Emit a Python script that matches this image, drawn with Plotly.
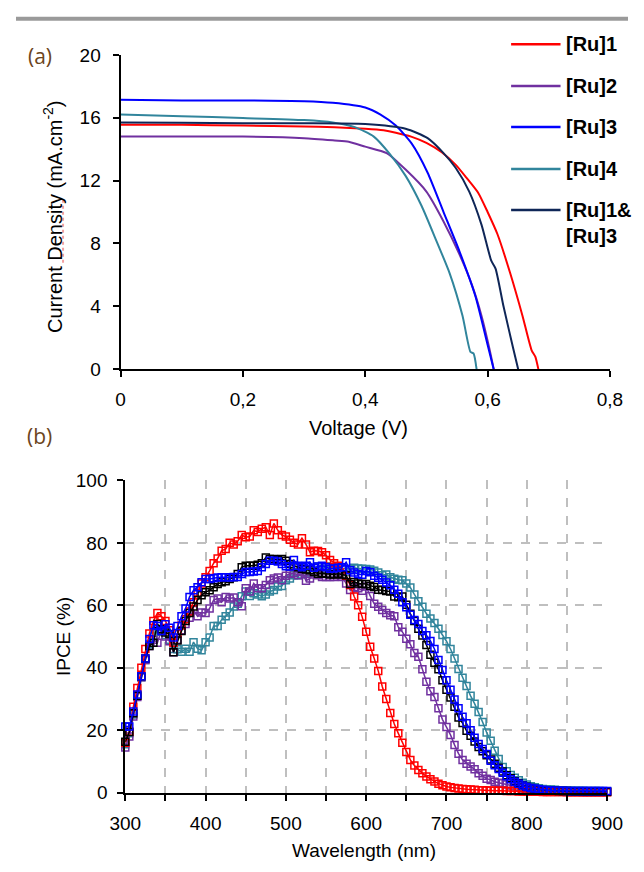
import plotly.graph_objects as go

# ---------------- Panel (a): J-V curves ----------------
V_RU1 = [0, 0.1, 0.2, 0.3, 0.35, 0.40, 0.43, 0.45, 0.475, 0.50, 0.525, 0.548, 0.565, 0.585, 0.60, 0.616, 0.637, 0.657, 0.672, 0.678, 0.683]
J_RU1 = [15.55, 15.55, 15.5, 15.45, 15.4, 15.3, 15.2, 15.05, 14.8, 14.4, 13.8, 13.0, 12.2, 11.2, 10.0, 8.6, 6.1, 3.4, 1.2, 0.8, 0]

V_RU2 = [0, 0.1, 0.2, 0.3, 0.35, 0.373, 0.40, 0.435, 0.466, 0.50, 0.528, 0.554, 0.575, 0.59, 0.603, 0.61]
J_RU2 = [14.8, 14.8, 14.8, 14.7, 14.55, 14.47, 14.16, 13.75, 12.7, 11.3, 9.4, 7.3, 5.3, 3.4, 1.3, 0]

V_RU3 = [0, 0.1, 0.2, 0.3, 0.347, 0.40, 0.425, 0.45, 0.476, 0.502, 0.528, 0.554, 0.58, 0.60, 0.61]
J_RU3 = [17.15, 17.1, 17.1, 17.05, 16.95, 16.65, 16.2, 15.5, 14.35, 12.5, 10.0, 7.5, 4.65, 1.55, 0]

V_RU4 = [0, 0.1, 0.2, 0.3, 0.347, 0.383, 0.414, 0.44, 0.466, 0.492, 0.517, 0.538, 0.559, 0.572, 0.577, 0.582]
J_RU4 = [16.2, 16.1, 15.98, 15.85, 15.7, 15.4, 14.8, 13.7, 12.3, 10.4, 8.1, 6.1, 3.4, 1.1, 1.0, 0]

V_RU13 = [0, 0.1, 0.2, 0.3, 0.40, 0.466, 0.502, 0.528, 0.548, 0.57, 0.59, 0.606, 0.613, 0.626, 0.642, 0.65]
J_RU13 = [15.7, 15.68, 15.65, 15.65, 15.6, 15.3, 14.7, 13.75, 12.8, 11.3, 9.2, 6.9, 6.4, 4.0, 1.3, 0]

# ---------------- Panel (b): IPCE spectra ----------------
WAVELENGTH = [300, 305, 310, 315, 320, 325, 330, 335, 340, 345, 350, 355, 360, 365, 370, 375, 380, 385, 390, 395,
              400, 405, 410, 415, 420, 425, 430, 435, 440, 445, 450, 455, 460, 465, 470, 475, 480, 485, 490, 495,
              500, 505, 510, 515, 520, 525, 530, 535, 540, 545, 550, 555, 560, 565, 570, 575, 580, 585, 590, 595,
              600, 605, 610, 615, 620, 625, 630, 635, 640, 645, 650, 655, 660, 665, 670, 675, 680, 685, 690, 695,
              700, 705, 710, 715, 720, 725, 730, 735, 740, 745, 750, 755, 760, 765, 770, 775, 780, 785, 790, 795,
              800, 805, 810, 815, 820, 825, 830, 835, 840, 845, 850, 855, 860, 865, 870, 875, 880, 885, 890, 895,
              900]

IPCE_RU1 = [16, 19.5, 27.5, 33.5, 40, 46, 51, 55, 57.5, 56.5, 55, 52, 48, 51, 53.5, 55.5, 58, 61, 64, 67,
            69, 71, 73.5, 75, 77.5, 78, 80, 79.5, 80.5, 82.5, 81.8, 82, 84, 83.5, 84.5, 85, 82.5, 86.2, 84, 82.5,
            82, 81, 80, 79.5, 81.5, 79.5, 77, 77.5, 77.4, 77, 76, 74.5, 73.5, 72.7, 72.2, 69.5, 66.5, 62.8, 60, 56.3,
            51.5, 46.7, 43, 39, 34, 30, 25.5, 22, 19, 16, 13, 10.5, 8.7, 7.3, 6.2, 5.2, 4.3, 3.6, 2.9, 2.4,
            2.0, 1.7, 1.5, 1.3, 1.2, 1.1, 1.0, 0.9, 0.8, 0.8, 0.7, 0.7, 0.6, 0.6, 0.6, 0.5, 0.5, 0.5, 0.4, 0.4,
            0.3, 0.3, 0.3, 0.3, 0.2, 0.2, 0.2, 0.2, 0.2, 0.2, 0.1, 0.1, 0.1, 0.1, 0.1, 0.1, 0.1, 0.1, 0.1, 0.1,
            0.1]

IPCE_RU2 = [14.5, 18, 24.4, 30.6, 37, 42.5, 47, 49, 48, 52, 50, 48.5, 45, 49, 52, 54, 56, 58.5, 56.5, 57.7,
            57.5, 59, 61.7, 62.2, 61, 62.7, 62.2, 62.5, 61, 59.7, 65.5, 64.4, 67, 65.5, 65.5, 66.5, 68, 68.6, 68.9, 68,
            69.5, 70.1, 70.3, 69.6, 70.7, 67.9, 68.6, 69.9, 69.6, 69.1, 69.1, 69.1, 69.1, 69.6, 69.1, 67, 64.9, 65.8, 65.5, 64.7,
            66, 63, 60.5, 59.5, 58.5, 57.5, 56.8, 56.5, 53, 51.5, 49.3, 47.5, 44.7, 43.5, 39.5, 35.5, 32.5, 30.6, 27, 23.4,
            21, 18.5, 15.3, 12.5, 10.5, 9.3, 8.4, 7.5, 6.2, 5.4, 4.5, 4.1, 3.5, 3.2, 3.0, 2.6, 2.3, 2.0, 1.7, 1.3,
            1.0, 0.9, 0.8, 0.6, 0.5, 0.5, 0.4, 0.4, 0.4, 0.3, 0.3, 0.3, 0.3, 0.3, 0.2, 0.2, 0.2, 0.2, 0.2, 0.2,
            0.2]

IPCE_RU3 = [21.2, 21.2, 26, 31.4, 37.3, 43, 49.2, 53.6, 53.4, 51.8, 53.9, 52.8, 49.7, 53.4, 56.5, 59, 62.7, 64.8, 65.8, 67.4,
            68.4, 68.4, 68.7, 68.9, 69, 69, 68.9, 69.1, 69.1, 70, 70.7, 70.7, 70.8, 71, 72.2, 73.2, 74.3, 74.3, 74, 73.2,
            72.5, 72.4, 74.5, 72.7, 72.2, 72.7, 73.8, 72, 72.4, 72.7, 72.2, 71.7, 71.8, 72, 72.2, 73.8, 71.2, 70.5, 70, 69.8,
            71, 70.6, 69.5, 68.8, 68.2, 67.3, 66.4, 65, 63.7, 61, 59.4, 57, 55.3, 54, 51.8, 50.4, 48.6, 46, 42.5, 39.3,
            36, 33, 29.8, 27, 24.3, 22.2, 20, 17.6, 15.6, 14, 12.4, 10.2, 8.8, 7.6, 6.4, 5.3, 4.3, 3.5, 2.9, 2.3,
            1.8, 1.5, 1.3, 1.1, 0.9, 0.8, 0.7, 0.6, 0.6, 0.6, 0.5, 0.5, 0.5, 0.5, 0.5, 0.5, 0.5, 0.5, 0.5, 0.5,
            0.5]

IPCE_RU4 = [15.5, 19, 25, 31, 37, 42.5, 47.5, 50, 52.5, 51.5, 50.5, 49, 46, 45.9, 45.1, 46.1, 45.1, 48.2, 46.1, 45.6,
            48.2, 49.7, 53.4, 53.4, 55.4, 56.5, 57.7, 59.6, 60.5, 62.9, 64.4, 63, 63.9, 63.5, 62.9, 63.5, 64.4, 64.9, 66, 66.2,
            68, 68.6, 69.6, 69.6, 69.9, 70.2, 70.7, 72, 72.4, 71.7, 72.4, 72.3, 72.2, 72, 71.5, 70.7, 71.7, 72, 71.8, 71.7,
            71.6, 71.5, 71.1, 70.5, 69.6, 69.9, 69, 68.5, 68.2, 68, 67, 65.7, 63.5, 61.3, 59.5, 57.3, 55.8, 54.3, 52.5, 50.5,
            48.5, 46, 43, 39.6, 36.8, 34.2, 31, 28.5, 25.8, 22.6, 19.3, 16.6, 13.4, 10.8, 8.2, 6.9, 5.7, 4.8, 4, 3.2,
            2.6, 2.1, 1.7, 1.4, 1.2, 1.1, 1.0, 0.9, 0.8, 0.8, 0.7, 0.7, 0.6, 0.6, 0.6, 0.5, 0.5, 0.5, 0.5, 0.4,
            0.4]

IPCE_RU13 = [16.3, 19.4, 25.4, 31, 37.3, 43, 47, 48, 54, 52.3, 51.3, 50.8, 45, 48.7, 51.8, 55, 57.5, 59.6, 61.7, 63.2,
             64.2, 64.8, 65.8, 66.8, 67.4, 67.7, 68.4, 69, 70, 72.2, 72.7, 72.7, 72.7, 73, 73.5, 75.3, 74.8, 74.8, 74.5, 74.8,
             74.3, 73.2, 72.7, 72.2, 71.7, 71.5, 71.2, 70.7, 70.1, 70.3, 70.1, 69.9, 69.9, 70.1, 69.9, 69.6, 66.8, 67.5, 67, 66.8,
             66.8, 66.3, 65.9, 65, 64.9, 64.6, 64.4, 62.8, 62.6, 62.8, 60.2, 57.3, 55, 52.5, 50.3, 47.3, 44.2, 41.6, 39.5, 36,
             33, 30.5, 27.5, 24.1, 22.3, 19.8, 18.2, 16.4, 14.6, 13.3, 12, 10.6, 9.3, 8, 6.8, 5.6, 4.6, 3.7, 3, 2.4,
             1.9, 1.5, 1.2, 1.0, 0.8, 0.7, 0.6, 0.6, 0.5, 0.5, 0.5, 0.4, 0.4, 0.4, 0.4, 0.3, 0.3, 0.3, 0.3, 0.3,
             0.3]

NAMES = ["[Ru]1", "[Ru]2", "[Ru]3", "[Ru]4", "[Ru]1&<br>[Ru]3"]
COLORS_A = ["#FF0000", "#7030A0", "#0000FF", "#31859C", "#0F2657"]
COLORS_B = ["#FF0000", "#7030A0", "#0000FF", "#31859C", "#000000"]

FONT = "Arial, Liberation Sans, sans-serif"

fig = go.Figure()

jv = [(V_RU1, J_RU1), (V_RU2, J_RU2), (V_RU3, J_RU3), (V_RU4, J_RU4), (V_RU13, J_RU13)]
for i, (v, j) in enumerate(jv):
    fig.add_trace(go.Scatter(x=v, y=j, mode="lines", name=NAMES[i].replace("<br>", ""), showlegend=False,
                             line=dict(color=COLORS_A[i], width=2, shape="spline", smoothing=0.6),
                             xaxis="x", yaxis="y"))

ipce = [IPCE_RU1, IPCE_RU2, IPCE_RU3, IPCE_RU4, IPCE_RU13]
for i in [3, 1, 0, 4, 2]:
    fig.add_trace(go.Scatter(x=WAVELENGTH, y=ipce[i], mode="lines+markers", showlegend=False,
                             name=NAMES[i].replace("<br>", ""),
                             line=dict(color=COLORS_B[i], width=1.5),
                             marker=dict(symbol="square-open", size=7, color=COLORS_B[i],
                                         line=dict(width=1.5, color=COLORS_B[i])),
                             cliponaxis=False, xaxis="x2", yaxis="y2"))

W, H = 644, 872
def px(x):
    return x / W
def py(y):
    return 1 - y / H

axis_common = dict(showline=True, linecolor="black", linewidth=2, ticks="outside", tickcolor="black",
                   tickwidth=1.5, ticklen=6, zeroline=False,
                   tickfont=dict(family=FONT, size=19, color="black"))

fig.update_layout(
    width=W, height=H, margin=dict(l=0, r=0, t=0, b=0),
    paper_bgcolor="white", plot_bgcolor="white",
    separators=",.",
    font=dict(family=FONT, color="black"),
    showlegend=False,
    xaxis=dict(domain=[px(110), px(625)], range=[0, 0.8], dtick=0.2, showgrid=False, anchor="y",
               ticklabelstandoff=6, **axis_common),
    yaxis=dict(domain=[py(368), py(46)], range=[0, 20], dtick=4, showgrid=False, anchor="x",
               ticklabelstandoff=8, **axis_common),
    xaxis2=dict(domain=[px(115), px(622)], range=[300, 900], dtick=100, anchor="y2",
                showgrid=True, gridcolor="#BFBFBF", griddash="dash", gridwidth=1.5,
                minor=dict(dtick=50, ticks="outside", ticklen=6, tickcolor="black", tickwidth=1.5,
                           showgrid=True, gridcolor="#BFBFBF", griddash="dash", gridwidth=1.5),
                ticklabelstandoff=7, **axis_common),
    yaxis2=dict(domain=[py(802), py(482)], range=[0, 100], dtick=20, anchor="x2",
                showgrid=True, gridcolor="#BFBFBF", griddash="dash", gridwidth=1.5,
                ticklabelstandoff=6, **axis_common),
)

# legend of panel (a): line sample + bold label
LEG_Y = [35, 78, 120, 163, 205]
for i, name in enumerate(NAMES):
    yc = LEG_Y[i]
    fig.add_shape(type="line", xref="paper", yref="paper", x0=px(521), x1=px(573), y0=py(yc), y1=py(yc),
                  line=dict(color=COLORS_A[i], width=2.5))
    two = "<br>" in name
    fig.add_annotation(text=f"<b>{name}</b>", x=px(577), y=py(yc - 13) if two else py(yc),
                       xref="paper", yref="paper", xanchor="left", yanchor="top" if two else "middle",
                       align="left", showarrow=False,
                       font=dict(family=FONT, size=20, color="black"))

ann = [
    dict(text="Current Density (mA.cm<sup>-2</sup>)", x=px(39), y=py(212), textangle=-90, size=20),
    dict(text="Voltage (V)", x=px(360), y=py(428), textangle=0, size=20),
    dict(text="IPCE (%)", x=px(50), y=py(642), textangle=-90, size=19),
    dict(text="Wavelength (nm)", x=px(366), y=py(861), textangle=0, size=19),
]
for a in ann:
    fig.add_annotation(text=a["text"], x=a["x"], y=a["y"], xref="paper", yref="paper",
                       xanchor="center", yanchor="middle", textangle=a["textangle"], showarrow=False,
                       font=dict(family=FONT, size=a["size"], color="black"))

for lab, yy in [("(a)", 47), ("(b)", 436)]:
    fig.add_annotation(text=lab, x=px(25), y=py(yy), xref="paper", yref="paper",
                       xanchor="center", yanchor="middle", showarrow=False,
                       font=dict(family="Open Sans, sans-serif", size=21, color="#6B4420"))

# grey rule at the top of the page
fig.add_shape(type="rect", xref="paper", yref="paper", x0=0, x1=1, y0=py(11), y1=py(7),
              fillcolor="#9A9A9A", line=dict(width=0))
# spell-check squiggle under "Density" in the y-axis title
fig.add_shape(type="line", xref="paper", yref="paper", x0=px(49.5), x1=px(49.5), y0=py(259), y1=py(193),
              line=dict(color="#F2A0A0", width=2, dash="dot"))

fig.write_html("out.html", config={"displayModeBar": False},
               post_script="document.body.style.margin='0';")
